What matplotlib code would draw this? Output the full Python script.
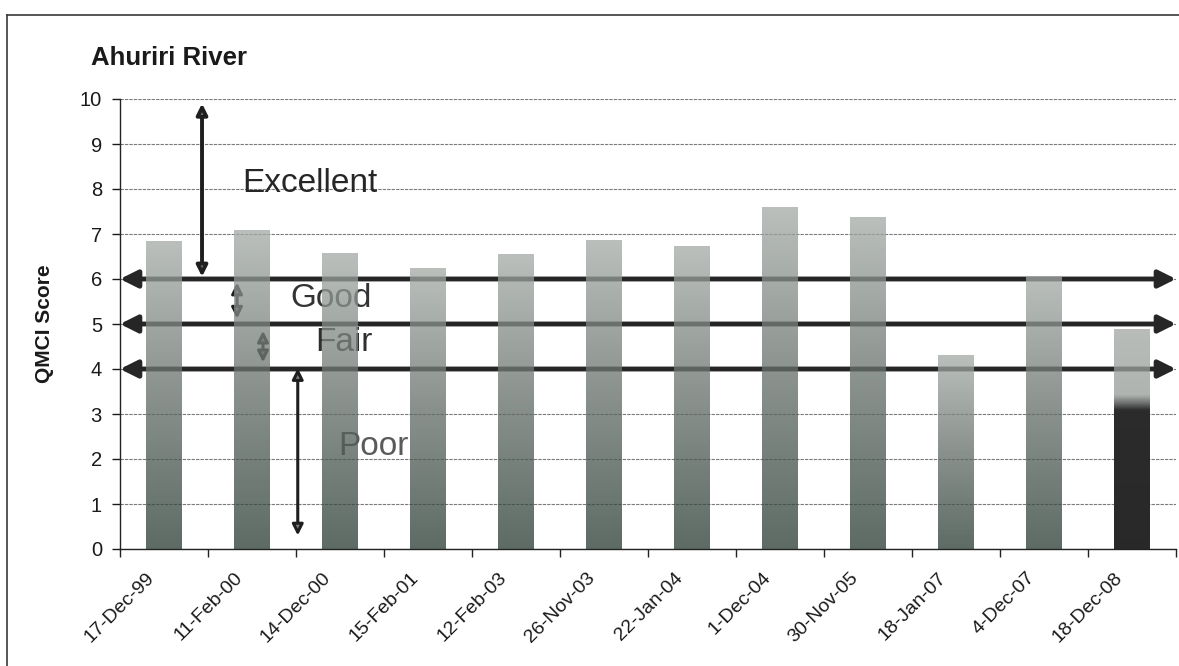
import numpy as np
import matplotlib.pyplot as plt
from matplotlib.lines import Line2D
from matplotlib.transforms import ScaledTranslation

plt.rcParams['font.family'] = ['Liberation Sans', 'DejaVu Sans']

# QMCI survey results
dates = ['17-Dec-99', '11-Feb-00', '14-Dec-00', '15-Feb-01', '12-Feb-03',
         '26-Nov-03', '22-Jan-04', '1-Dec-04', '30-Nov-05', '18-Jan-07',
         '4-Dec-07', '18-Dec-08']
qmci = [6.85, 7.1, 6.58, 6.25, 6.55, 6.87, 6.73, 7.6, 7.38, 4.31, 6.05, 4.9]

# class boundaries and names
thresholds = [4, 5, 6]
classes = ['Excellent', 'Good', 'Fair', 'Poor']
class_ranges = [(6.05, 9.9), (5.12, 5.92), (4.15, 4.85), (4.02, 0.3)]


def ramp(stops, n=256):
    """RGBA ramp from bottom (0) to top (1) built from (pos, rgba) stops"""
    pos = np.array([s[0] for s in stops])
    cols = np.array([s[1] for s in stops], dtype=float)
    t = np.linspace(0, 1, n)
    out = np.stack([np.interp(t, pos, cols[:, k]) for k in range(4)], axis=1)
    return out.reshape(n, 1, 4)


bar_ramp = ramp([(0.0, (42/255, 60/255, 51/255, 0.76)),
                 (0.5, (100/255, 110/255, 104/255, 0.76)),
                 (1.0, (165/255, 171/255, 166/255, 0.76))])
last_ramp = ramp([(0.0, (0.16, 0.16, 0.16, 1.0)),
                  (0.63, (0.17, 0.17, 0.17, 1.0)),
                  (0.70, (150/255, 156/255, 152/255, 0.76)),
                  (1.0, (162/255, 167/255, 163/255, 0.76))])

fig = plt.figure(figsize=(11.79, 6.66), dpi=100)
ax = fig.add_axes([120/1179, 117/666, 1056/1179, 450/666])

x = np.arange(len(dates))
bars = ax.bar(x, qmci, width=0.4, color='none', edgecolor='none', zorder=3)
for i, b in enumerate(bars):
    grad = last_ramp if i == len(bars) - 1 else bar_ramp
    x0, y0 = b.get_x(), b.get_y()
    im = ax.imshow(grad, extent=(x0, x0 + b.get_width(), y0, y0 + b.get_height()),
                   origin='lower', aspect='auto', zorder=3, interpolation='bilinear')
    im.set_clip_path(b)

ax.set_xlim(-0.5, len(dates) - 0.5)
ax.set_ylim(0, 10)

# class boundary lines
for t in thresholds:
    ax.annotate('', xy=(len(dates) - 0.5, t), xytext=(-0.5, t),
                arrowprops=dict(arrowstyle='<|-|>', mutation_scale=26, lw=3.5,
                                color='#262626', shrinkA=0, shrinkB=0),
                zorder=2, annotation_clip=False)

# class range arrows
arrow_x = [0.432, 0.83, 1.125, 1.52]
arrow_lw = [2.8, 2.2, 2.2, 2.2]
for ax_x, (lo, hi), lw in zip(arrow_x, class_ranges, arrow_lw):
    ax.annotate('', xy=(ax_x, hi), xytext=(ax_x, lo),
                arrowprops=dict(arrowstyle='<|-|>', mutation_scale=16, lw=lw,
                                fc='#7d7d7d', ec='#1e1e1e', shrinkA=0, shrinkB=0),
                zorder=2)

label_xy = [(0.886, 7.93), (1.432, 5.38), (1.716, 4.4), (1.977, 2.09)]
label_col = ['#262626', '#333333', '#2e2e2e', '#5a5a5a']
for name, (lx, ly), c in zip(classes, label_xy, label_col):
    ax.text(lx, ly, name, fontsize=24, color=c, ha='left', va='baseline', zorder=2.5)

ax.set_yticks(range(11))
ax.yaxis.grid(True, color='#7a7a7a', lw=0.8, ls=(0, (3, 1)), zorder=0.5)
ax.set_axisbelow(True)
ax.tick_params(axis='y', length=6, width=1, labelsize=14.5, pad=7,
               colors='#1a1a1a')

ax.set_xticks(x)
ax.set_xticklabels(dates, rotation=45, ha='right', va='center',
                   rotation_mode='anchor', fontsize=14, color='#1a1a1a')
ax.set_xticks(np.arange(-0.5, len(dates), 1), minor=True)
ax.tick_params(axis='x', which='major', length=0, pad=19)
ax.tick_params(axis='x', which='minor', length=6, width=1, color='#222222')
shift = ScaledTranslation(-12/100, 0, fig.dpi_scale_trans)
for lab in ax.get_xticklabels():
    lab.set_transform(lab.get_transform() + shift)

for side in ['top', 'right']:
    ax.spines[side].set_visible(False)
for side in ['left', 'bottom']:
    ax.spines[side].set_color('#222222')
    ax.spines[side].set_linewidth(1)

fig.text(91/1179, (666 - 65)/666, 'Ahuriri River', fontsize=18.5,
         fontweight='bold', color='#1a1a1a', ha='left', va='baseline')
fig.text(45/1179, (666 - 324)/666, 'QMCI Score', fontsize=15, fontweight='bold',
         rotation=90, ha='center', va='center', color='#1a1a1a')

# page frame
fig.add_artist(Line2D([7/1179, 7/1179], [0, 651/666], transform=fig.transFigure,
                      color='#3a3a3a', lw=1.2))
fig.add_artist(Line2D([7/1179, 1], [651/666, 651/666], transform=fig.transFigure,
                      color='#3a3a3a', lw=1.2))

fig.savefig('out.png', dpi=100)
